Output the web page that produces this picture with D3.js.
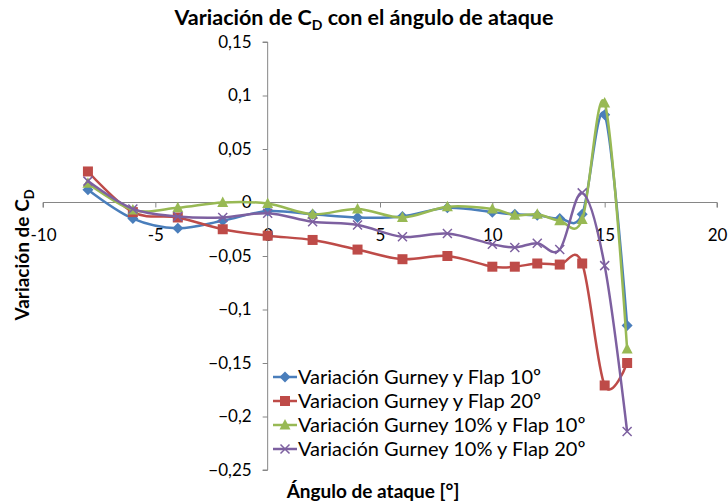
<!DOCTYPE html>
<html><head><meta charset="utf-8">
<script src="https://cdn.jsdelivr.net/npm/d3@7"></script>
<style>body{margin:0;background:#fff}svg{display:block}text{font-family:Lato,"Open Sans",sans-serif}</style>
</head><body><svg id="c" width="728" height="503"></svg>
<script>
const angles = [-8,-6,-4,-2,0,2,4,6,8,10,11,12,13,14,15,16];
const gurneyFlap10   = [0.012,-0.015,-0.024,-0.017,-0.008,-0.011,-0.014,-0.013,-0.005,-0.009,-0.011,-0.012,-0.015,-0.011,0.082,-0.115];
const gurneyFlap20   = [0.029,-0.009,-0.014,-0.025,-0.031,-0.035,-0.044,-0.053,-0.050,-0.060,-0.060,-0.057,-0.058,-0.057,-0.171,-0.150];
const gurney10Flap10 = [0.018,-0.007,-0.005,0.000,-0.001,-0.011,-0.006,-0.014,-0.004,-0.006,-0.012,-0.011,-0.017,-0.016,0.093,-0.137];
const gurney10Flap20 = [0.020,-0.006,-0.013,-0.014,-0.010,-0.018,-0.021,-0.032,-0.029,-0.039,-0.042,-0.038,-0.044,0.009,-0.059,-0.214];
const seriesNames = ["Variación Gurney y Flap 10º","Variacion Gurney y Flap 20º","Variación Gurney 10% y Flap 10º","Variación Gurney 10% y Flap 20º"];
const xTicks = [-10,-5,0,5,10,15,20];
const yTicks = [-0.25,-0.2,-0.15,-0.1,-0.05,0,0.05,0.1,0.15];

const colors = ["#4A7EBB","#BE4B48","#98B954","#7D60A0"];
const markers = ["diamond","square","triangle","x"];
const values = [gurneyFlap10,gurneyFlap20,gurney10Flap10,gurney10Flap20];

const svg = d3.select("#c");
const x = d3.scaleLinear().domain([-10,20]).range([43,717]);
const y = d3.scaleLinear().domain([-0.25,0.15]).range([470,42]);
const fmtY = v => (Math.abs(v)<1e-9?"0":d3.format("")(+v.toFixed(2))).replace(".",",");
const axisColor = "#868686";

// x axis at y=0
const gx = svg.append("g").attr("transform",`translate(0,${y(0)})`)
  .call(d3.axisBottom(x).tickValues(xTicks).tickSize(5).tickFormat(d=>d));
gx.select(".domain").attr("stroke",axisColor).attr("d",`M${x(-10)},5V0H${x(20)}V5`);
gx.selectAll(".tick line").attr("stroke",axisColor);
gx.selectAll(".tick text").attr("font-size",17).attr("fill","#000").attr("y",33).attr("dy","0.35em");

// y axis at x=0
const gy = svg.append("g").attr("transform",`translate(${x(0)},0)`)
  .call(d3.axisLeft(y).tickValues(yTicks).tickSize(5).tickPadding(11).tickFormat(fmtY));
gy.select(".domain").attr("stroke",axisColor).attr("d",`M-5,${y(0.15)}H0V${y(-0.25)}H-5`);
gy.selectAll(".tick line").attr("stroke",axisColor);
gy.selectAll(".tick text").attr("font-size",17).attr("fill","#000");

const line = d3.line().x(d=>x(d[0])).y(d=>y(d[1])).curve(d3.curveCardinal.tension(0));

function marker(g, type, color, cx, cy){
  if(type==="diamond"){
    g.append("path").attr("d",`M${cx},${cy-5.5}L${cx+5.5},${cy}L${cx},${cy+5.5}L${cx-5.5},${cy}Z`).attr("fill",color);
  } else if(type==="square"){
    g.append("rect").attr("x",cx-5).attr("y",cy-5).attr("width",10).attr("height",10).attr("fill",color);
  } else if(type==="triangle"){
    g.append("path").attr("d",`M${cx},${cy-6}L${cx+5.5},${cy+4.5}L${cx-5.5},${cy+4.5}Z`).attr("fill",color);
  } else {
    g.append("path").attr("d",`M${cx-4.5},${cy-4.5}L${cx+4.5},${cy+4.5}M${cx-4.5},${cy+4.5}L${cx+4.5},${cy-4.5}`).attr("stroke",color).attr("stroke-width",1.5);
  }
}

values.forEach((vals,i)=>{
  const pts = angles.map((a,j)=>[a,vals[j]]);
  const g = svg.append("g");
  g.append("path").attr("d",line(pts)).attr("fill","none").attr("stroke",colors[i]).attr("stroke-width",2.5);
  pts.forEach(p=>marker(g,markers[i],colors[i],x(p[0]),y(p[1])));
});

// legend
const lg = svg.append("g");
seriesNames.forEach((n,i)=>{
  const ly = 377 + i*24;
  lg.append("line").attr("x1",273).attr("x2",297).attr("y1",ly).attr("y2",ly).attr("stroke",colors[i]).attr("stroke-width",2.5);
  marker(lg,markers[i],colors[i],285,ly);
  lg.append("text").attr("x",298).attr("y",ly).attr("dy","0.35em").attr("font-size",20).text(n);
});

// title
const t = svg.append("text").attr("x",364).attr("y",25).attr("text-anchor","middle").attr("font-size",21.5).attr("font-weight","bold");
t.append("tspan").text("Variación de C");
t.append("tspan").attr("font-size",14).attr("dy",5).text("D");
t.append("tspan").attr("dy",-5).text(" con el ángulo de ataque");

// y title
const yt = svg.append("text").attr("transform","translate(29,255) rotate(-90)").attr("text-anchor","middle").attr("font-size",19).attr("font-weight","bold");
yt.append("tspan").text("Variación de C");
yt.append("tspan").attr("font-size",13).attr("dy",5).text("D");

// x title
svg.append("text").attr("x",373).attr("y",498).attr("text-anchor","middle").attr("font-size",19).attr("font-weight","bold").text("Ángulo de ataque [°]");
</script></body></html>
